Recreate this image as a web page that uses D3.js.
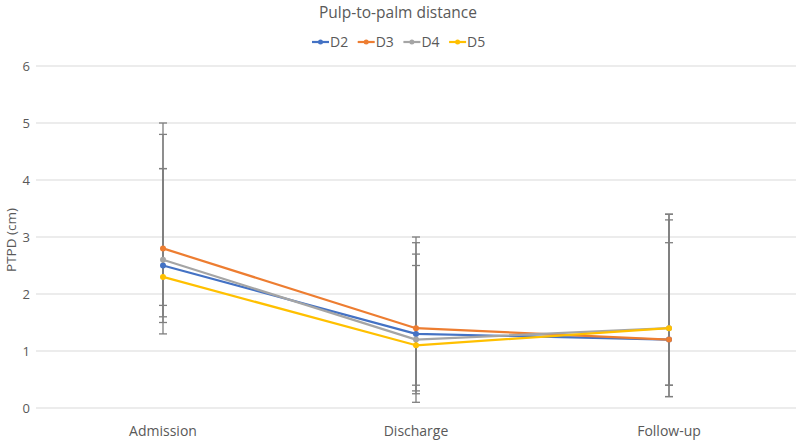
<!DOCTYPE html>
<html><head><meta charset="utf-8">
<script src="https://cdn.jsdelivr.net/npm/d3@7"></script>
<style>body{margin:0;background:#fff}svg{display:block;font-family:"Open Sans",sans-serif}</style>
</head><body><svg id="c" width="796" height="440"></svg>
<script>
const categories = ["Admission", "Discharge", "Follow-up"];
const seriesNames = ["D2", "D3", "D4", "D5"];
const colors = ["#4472C4", "#ED7D31", "#A5A5A5", "#FFC000"];
const D2 = [2.5, 1.3, 1.2];
const D3 = [2.8, 1.4, 1.2];
const D4 = [2.6, 1.2, 1.4];
const D5 = [2.3, 1.1, 1.4];
const D2up = [4.8, 2.9, 2.9], D2lo = [1.5, 0.3, 0.2];
const D3up = [5.0, 3.0, 3.3], D3lo = [1.8, 0.4, 0.4];
const D4up = [4.2, 2.7, 3.4], D4lo = [1.6, 0.25, 0.4];
const D5up = [4.2, 2.5, 3.4], D5lo = [1.3, 0.1, 0.2];
const yTicks = [0, 1, 2, 3, 4, 5, 6];

const series = [
  {name: seriesNames[0], vals: D2, up: D2up, lo: D2lo, color: colors[0]},
  {name: seriesNames[1], vals: D3, up: D3up, lo: D3lo, color: colors[1]},
  {name: seriesNames[2], vals: D4, up: D4up, lo: D4lo, color: colors[2]},
  {name: seriesNames[3], vals: D5, up: D5up, lo: D5lo, color: colors[3]}
];

const svg = d3.select("#c");
const x = d3.scalePoint().domain(categories).range([36.5, 795.5]).padding(0.5);
const y = d3.scaleLinear().domain([0, 6]).range([408, 66]);

// gridlines
svg.append("g").selectAll("line").data(yTicks).join("line")
  .attr("x1", 36).attr("x2", 796)
  .attr("y1", d => y(d)).attr("y2", d => y(d))
  .attr("stroke", "#d9d9d9").attr("stroke-width", 1);

// y tick labels
svg.append("g").selectAll("text").data(yTicks).join("text")
  .attr("x", 30).attr("y", d => y(d)).attr("dy", "0.35em")
  .attr("text-anchor", "end").attr("font-size", 13).attr("fill", "#595959")
  .text(d => d);

// x labels
svg.append("g").selectAll("text").data(categories).join("text")
  .attr("x", d => x(d)).attr("y", 436)
  .attr("text-anchor", "middle").attr("font-size", 14).attr("fill", "#595959")
  .text(d => d);

// y axis title
svg.append("text").attr("transform", "translate(11,240) rotate(-90)")
  .attr("text-anchor", "middle").attr("dy", "0.35em").attr("font-size", 13.5).attr("fill", "#595959")
  .text("PTPD (cm)");

// title
svg.append("text").attr("x", 398).attr("y", 18).attr("text-anchor", "middle")
  .attr("font-size", 15.5).attr("fill", "#595959").text("Pulp-to-palm distance");

// lines
const line = d3.line().x((d, i) => x(categories[i])).y(d => y(d));
series.forEach(s => {
  svg.append("path").datum(s.vals).attr("d", line)
    .attr("fill", "none").attr("stroke", s.color).attr("stroke-width", 2.2)
    .attr("stroke-linejoin", "round");
});

// error bars
series.forEach(s => {
  const g = svg.append("g").attr("stroke", "#7f7f7f").attr("stroke-width", 1.3);
  categories.forEach((c, i) => {
    const cx = x(c);
    g.append("line").attr("x1", cx).attr("x2", cx).attr("y1", y(s.up[i])).attr("y2", y(s.lo[i]));
    g.append("line").attr("x1", cx - 4).attr("x2", cx + 4).attr("y1", y(s.up[i])).attr("y2", y(s.up[i]));
    g.append("line").attr("x1", cx - 4).attr("x2", cx + 4).attr("y1", y(s.lo[i])).attr("y2", y(s.lo[i]));
  });
});

// markers
series.forEach(s => {
  svg.append("g").selectAll("circle").data(s.vals).join("circle")
    .attr("cx", (d, i) => x(categories[i])).attr("cy", d => y(d))
    .attr("r", 3).attr("fill", s.color);
});

// legend
const leg = svg.append("g");
series.forEach((s, i) => {
  const lx = 312 + i * 45.7;
  leg.append("line").attr("x1", lx).attr("x2", lx + 17).attr("y1", 42).attr("y2", 42)
    .attr("stroke", s.color).attr("stroke-width", 2.2);
  leg.append("circle").attr("cx", lx + 8.5).attr("cy", 42).attr("r", 2.5).attr("fill", s.color);
  leg.append("text").attr("x", lx + 18).attr("y", 42).attr("dy", "0.35em")
    .attr("font-size", 14).attr("fill", "#595959").text(s.name);
});
</script></body></html>
